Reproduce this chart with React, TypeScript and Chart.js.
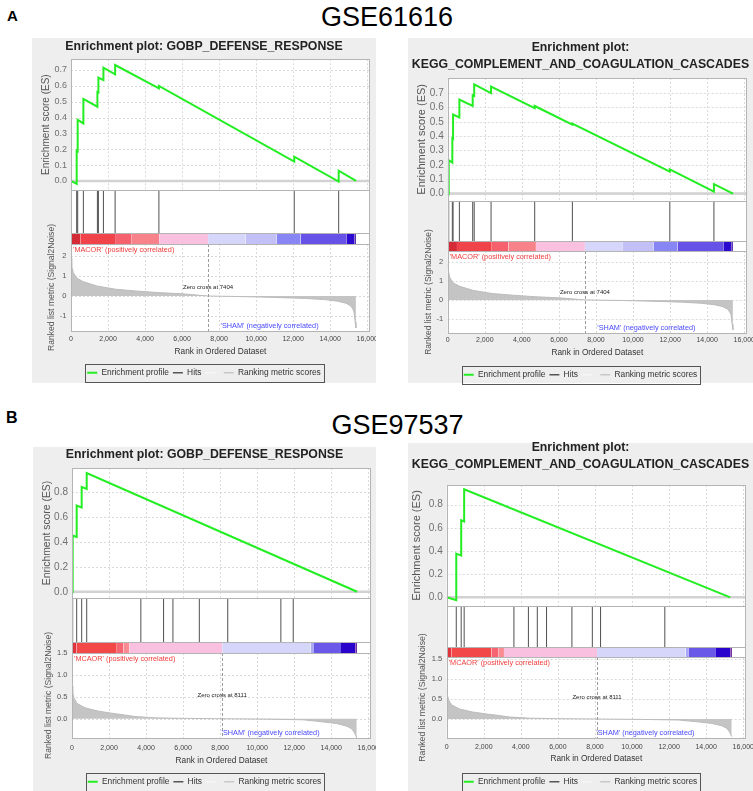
import React, { useEffect, useRef } from 'react';
import { Chart, registerables } from 'chart.js';

Chart.register(...registerables);

// ------------------------------------------------------------------
// DATA
// ------------------------------------------------------------------
const X_MAX = 16150;
const X_TICKS = [0, 2000, 4000, 6000, 8000, 10000, 12000, 14000, 16000];

// tick values
const ES_TICKS_A = [0, 0.1, 0.2, 0.3, 0.4, 0.5, 0.6, 0.7];
const ES_TICKS_B = [0, 0.2, 0.4, 0.6, 0.8];
const METRIC_TICKS_A = [-1, 0, 1, 2];
const METRIC_TICKS_B = [0, 0.5, 1, 1.5];

// GSE61616 ranked list metric (Signal2Noise)
const METRIC_A_RANKS = [0, 40, 120, 300, 650, 1400, 2400, 3500, 4700, 6000, 7404, 9300, 11000, 12600, 13700, 14400, 14850, 15120, 15280, 15350, 15390];
const METRIC_A_VALUES = [1.9, 1.5, 1.18, 0.9, 0.72, 0.5, 0.34, 0.25, 0.17, 0.11, 0, -0.03, -0.07, -0.12, -0.18, -0.26, -0.36, -0.5, -0.75, -1.3, -1.6];
const ZERO_CROSS_A = 7404;
const HEAT_A_EDGES = [0, 500, 2380, 3280, 4760, 7404, 9420, 11100, 12400, 14870, 15300, 15390];

// GSE97537 ranked list metric (Signal2Noise)
const METRIC_B_RANKS = [0, 40, 100, 270, 700, 1400, 2150, 2850, 3400, 4500, 6000, 8111, 10500, 12500, 13400, 14300, 14850, 15100, 15230, 15300, 15380];
const METRIC_B_VALUES = [0.75, 0.6, 0.48, 0.35, 0.25, 0.175, 0.125, 0.085, 0.05, 0.02, 0.008, 0, -0.01, -0.025, -0.065, -0.11, -0.17, -0.23, -0.3, -0.36, -0.44];
const ZERO_CROSS_B = 8111;
const HEAT_B_EDGES = [0, 250, 2420, 2780, 3090, 8111, 12890, 13070, 14530, 15300, 15390];

// GSE61616 - GOBP_DEFENSE_RESPONSE
const HITS_A1 = [307, 361, 668, 1426, 1480, 1751, 2383, 4747, 12058, 14458];
const ES_A1_RANKS = [0, 307, 307, 361, 361, 668, 668, 1426, 1426, 1480, 1480, 1751, 1751, 2383, 2383, 4747, 4747, 12058, 12058, 14458, 14458, 15400];
const ES_A1_VALUES = [0, -0.018, 0.19, 0.187, 0.385, 0.363, 0.517, 0.468, 0.561, 0.558, 0.651, 0.636, 0.714, 0.672, 0.731, 0.584, 0.599, 0.122, 0.153, -0.004, 0.065, 0];

// GSE61616 - KEGG_COMPLEMENT_AND_COAGULATION_CASCADES
const HITS_A2 = [54, 250, 290, 630, 1349, 1430, 2340, 4694, 6727, 11985, 14365];
const ES_A2_RANKS = [0, 54, 54, 250, 250, 290, 290, 630, 630, 1349, 1349, 1430, 1430, 2340, 2340, 4694, 4694, 6727, 6727, 11985, 11985, 14365, 14365, 15400];
const ES_A2_VALUES = [0, -0.003, 0.232, 0.215, 0.385, 0.382, 0.55, 0.53, 0.655, 0.61, 0.685, 0.68, 0.76, 0.7, 0.745, 0.595, 0.61, 0.48, 0.487, 0.152, 0.168, 0.013, 0.065, 0];

// GSE97537 - GOBP_DEFENSE_RESPONSE
const HITS_B1 = [36, 253, 523, 794, 3718, 4946, 5451, 6877, 8412, 11282, 11949];
const ES_B1_RANKS = [0, 36, 36, 253, 253, 523, 523, 794, 794, 15400];
const ES_B1_VALUES = [0, -0.002, 0.452, 0.44, 0.693, 0.677, 0.843, 0.826, 0.955, 0];

// GSE97537 - KEGG_COMPLEMENT_AND_COAGULATION_CASCADES
const HITS_B2 = [516, 782, 942, 3627, 4409, 4889, 5387, 6756, 7858, 8302, 11769];
const ES_B2_RANKS = [0, 516, 516, 782, 782, 942, 942, 15300];
const ES_B2_VALUES = [0, -0.025, 0.377, 0.36, 0.665, 0.655, 0.933, 0];

// ------------------------------------------------------------------
// STYLES
// ------------------------------------------------------------------
const FONT = "'Liberation Sans', Arial, Helvetica, sans-serif";
const GREEN = '#22ee22';
const HEAT_A_COLORS = ['#d42c36', '#f0444a', '#f5626e', '#f7828a', '#fac0e0', '#d6d6fa', '#c2c0f6', '#8786f4', '#6652e6', '#2c0ad0', '#4212a8'];
const HEAT_B_COLORS = ['#e2323c', '#f24848', '#f56672', '#f88c92', '#fac0e0', '#d6d6fa', '#a8a8f6', '#6a58e8', '#2a04cc', '#5a0a90'];

type Panel = {
  key: string;
  gray: { l: number; t: number; r: number; b: number };
  canvasTop: number;
  plotLeft: number; plotRight: number;
  title: string[]; titleY: number; titleGap: number;
  plotTop: number; esBottom: number; hitsBottom: number; heatBottom: number; metricBottom: number;
  xLabelY: number; xTitleY: number; legendY: number;
  esTitleX: number; metricTitleX: number;
  esMin: number; esMax: number; esTicks: number[];
  metricMin: number; metricMax: number; metricTicks: number[]; metricDigits: number;
  esTickFont: number; esTitleFont: number; metricTickFont: number; metricTitleFont: number;
  esRanks: number[]; esValues: number[]; hits: number[];
  metricRanks: number[]; metricValues: number[];
  heatEdges: number[]; heatColors: string[];
  zeroCross: number; posLabel: string; negLabel: string;
};

const PANELS: Panel[] = [
  {
    key: 'a1', gray: { l: 32, t: 38, r: 376, b: 383 }, canvasTop: 38,
    plotLeft: 71, plotRight: 370,
    title: ['Enrichment plot: GOBP_DEFENSE_RESPONSE'], titleY: 47, titleGap: 17,
    plotTop: 59.3, esBottom: 190, hitsBottom: 233, heatBottom: 244, metricBottom: 331,
    xLabelY: 339, xTitleY: 352, legendY: 372,
    esTitleX: 46.7, metricTitleX: 51.7,
    esMin: -0.057, esMax: 0.767, esTicks: ES_TICKS_A,
    metricMin: -1.75, metricMax: 2.6, metricTicks: METRIC_TICKS_A, metricDigits: 0,
    esTickFont: 9, esTitleFont: 10, metricTickFont: 7.5, metricTitleFont: 8.6,
    esRanks: ES_A1_RANKS, esValues: ES_A1_VALUES, hits: HITS_A1,
    metricRanks: METRIC_A_RANKS, metricValues: METRIC_A_VALUES,
    heatEdges: HEAT_A_EDGES, heatColors: HEAT_A_COLORS,
    zeroCross: ZERO_CROSS_A, posLabel: "'MACOR' (positively correlated)", negLabel: "'SHAM' (negatively correlated)",
  },
  {
    key: 'a2', gray: { l: 408, t: 38, r: 753, b: 383 }, canvasTop: 38,
    plotLeft: 447.7, plotRight: 747,
    title: ['Enrichment plot:', 'KEGG_COMPLEMENT_AND_COAGULATION_CASCADES'], titleY: 48, titleGap: 17,
    plotTop: 78, esBottom: 200.7, hitsBottom: 241, heatBottom: 251, metricBottom: 333,
    xLabelY: 340, xTitleY: 352.7, legendY: 374,
    esTitleX: 421.7, metricTitleX: 428.3,
    esMin: -0.05, esMax: 0.805, esTicks: ES_TICKS_A,
    metricMin: -1.76, metricMax: 2.6, metricTicks: METRIC_TICKS_A, metricDigits: 0,
    esTickFont: 10, esTitleFont: 11, metricTickFont: 7.5, metricTitleFont: 8.5,
    esRanks: ES_A2_RANKS, esValues: ES_A2_VALUES, hits: HITS_A2,
    metricRanks: METRIC_A_RANKS, metricValues: METRIC_A_VALUES,
    heatEdges: HEAT_A_EDGES, heatColors: HEAT_A_COLORS,
    zeroCross: ZERO_CROSS_A, posLabel: "'MACOR' (positively correlated)", negLabel: "'SHAM' (negatively correlated)",
  },
  {
    key: 'b1', gray: { l: 33, t: 447, r: 376, b: 791 }, canvasTop: 447,
    plotLeft: 72, plotRight: 371,
    title: ['Enrichment plot: GOBP_DEFENSE_RESPONSE'], titleY: 455, titleGap: 17,
    plotTop: 468, esBottom: 598, hitsBottom: 642, heatBottom: 653, metricBottom: 738,
    xLabelY: 748, xTitleY: 761, legendY: 781.5,
    esTitleX: 46.7, metricTitleX: 49,
    esMin: -0.05, esMax: 0.995, esTicks: ES_TICKS_B,
    metricMin: -0.44, metricMax: 1.5, metricTicks: METRIC_TICKS_B, metricDigits: 1,
    esTickFont: 10, esTitleFont: 10.4, metricTickFont: 7.5, metricTitleFont: 8.6,
    esRanks: ES_B1_RANKS, esValues: ES_B1_VALUES, hits: HITS_B1,
    metricRanks: METRIC_B_RANKS, metricValues: METRIC_B_VALUES,
    heatEdges: HEAT_B_EDGES, heatColors: HEAT_B_COLORS,
    zeroCross: ZERO_CROSS_B, posLabel: "'MCAOR' (positively correlated)", negLabel: "'SHAM' (negatively correlated)",
  },
  {
    key: 'b2', gray: { l: 408, t: 443, r: 753, b: 791 }, canvasTop: 436,
    plotLeft: 446.7, plotRight: 746,
    title: ['Enrichment plot:', 'KEGG_COMPLEMENT_AND_COAGULATION_CASCADES'], titleY: 448, titleGap: 16.5,
    plotTop: 485, esBottom: 606, hitsBottom: 647, heatBottom: 657, metricBottom: 738,
    xLabelY: 746.7, xTitleY: 759, legendY: 781,
    esTitleX: 416.7, metricTitleX: 422.7,
    esMin: -0.075, esMax: 0.97, esTicks: ES_TICKS_B,
    metricMin: -0.475, metricMax: 1.55, metricTicks: METRIC_TICKS_B, metricDigits: 1,
    esTickFont: 10, esTitleFont: 11, metricTickFont: 7.5, metricTitleFont: 8.7,
    esRanks: ES_B2_RANKS, esValues: ES_B2_VALUES, hits: HITS_B2,
    metricRanks: METRIC_B_RANKS, metricValues: METRIC_B_VALUES,
    heatEdges: HEAT_B_EDGES, heatColors: HEAT_B_COLORS,
    zeroCross: ZERO_CROSS_B, posLabel: "'MCAOR' (positively correlated)", negLabel: "'SHAM' (negatively correlated)",
  },
];

const LEGEND_FONT = 8.4;
const LEGEND_PAD = 4;

// ------------------------------------------------------------------
// Decoration plugin (frames, grid, annotations, legend frame)
// ------------------------------------------------------------------
const decor = {
  id: 'gseaDecor',
  beforeDraw(chart: any) {
    const { ctx, chartArea: ca } = chart;
    ctx.save();
    ctx.fillStyle = '#ffffff';
    ctx.fillRect(ca.left, ca.top, ca.right - ca.left, ca.bottom - ca.top);
    ctx.restore();
  },
  beforeDatasetsDraw(chart: any) {
    const { ctx, chartArea: ca, scales: s } = chart;
    ctx.save();
    ctx.strokeStyle = '#dadada';
    ctx.lineWidth = 1;
    ctx.setLineDash([2, 2]);
    for (const area of [s.yES, s.yMetric]) {
      for (const t of s.x.ticks) {
        if (t.value === 0) continue;
        const px = Math.round(s.x.getPixelForValue(t.value)) + 0.5;
        ctx.beginPath(); ctx.moveTo(px, area.top); ctx.lineTo(px, area.bottom); ctx.stroke();
      }
      for (const t of area.ticks) {
        const py = Math.round(area.getPixelForValue(t.value)) + 0.5;
        ctx.beginPath(); ctx.moveTo(ca.left, py); ctx.lineTo(ca.right, py); ctx.stroke();
      }
    }
    ctx.restore();
  },
  afterDatasetsDraw(chart: any, _args: any, opts: any) {
    const { ctx, chartArea: ca, scales: s } = chart;
    const es = s.yES, hits = s.yHits, heat = s.yHeat, m = s.yMetric;
    const L = Math.round(ca.left) + 0.5, R = Math.round(ca.right) - 0.5;
    const hl = (y: number) => Math.round(y) + 0.5;
    ctx.save();
    // zero-cross dashed line
    const zx = Math.round(s.x.getPixelForValue(opts.zeroCross)) + 0.5;
    ctx.strokeStyle = '#9a9a9a';
    ctx.lineWidth = 1;
    ctx.setLineDash([3, 2]);
    ctx.beginPath(); ctx.moveTo(zx, heat.bottom); ctx.lineTo(zx, m.bottom); ctx.stroke();
    ctx.setLineDash([]);
    // frames
    ctx.strokeStyle = '#b4b4b4';
    ctx.strokeRect(L, hl(es.top), R - L, hl(es.bottom) - hl(es.top));
    ctx.strokeRect(L, hl(hits.top), R - L, hl(m.bottom) - hl(hits.top));
    ctx.beginPath();
    ctx.moveTo(L, hl(heat.top)); ctx.lineTo(R, hl(heat.top));
    ctx.moveTo(L, hl(heat.bottom)); ctx.lineTo(R, hl(heat.bottom));
    ctx.stroke();
    // annotations
    ctx.textBaseline = 'middle';
    ctx.font = `7.3px ${FONT}`;
    ctx.fillStyle = '#f03c3c';
    ctx.textAlign = 'left';
    ctx.fillText(opts.posLabel, ca.left + 2, heat.bottom + 5.5);
    ctx.fillStyle = '#4a4aff';
    ctx.fillText(opts.negLabel, (ca.left + ca.right) / 2, m.bottom - 5);
    ctx.font = `6px ${FONT}`;
    ctx.fillStyle = '#222';
    ctx.textAlign = 'center';
    ctx.fillText(`Zero cross at ${opts.zeroCross}`, s.x.getPixelForValue(opts.zeroCross), (m.top + m.bottom) / 2);
    ctx.restore();
  },
  afterDraw(chart: any) {
    const lg = chart.legend;
    if (!lg || !lg.legendHitBoxes || !lg.legendHitBoxes.length) return;
    const hb = lg.legendHitBoxes;
    let minL = Infinity, maxR = -Infinity;
    for (const b of hb) { minL = Math.min(minL, b.left); maxR = Math.max(maxR, b.left + b.width); }
    const cy = hb[0].top + hb[0].height / 2;
    const { ctx } = chart;
    ctx.save();
    ctx.strokeStyle = '#555';
    ctx.lineWidth = 1;
    const x0 = Math.round(minL - 2) + 0.5, x1 = Math.round(maxR + 3) + 0.5;
    const y0 = Math.round(cy - 9) + 0.5, y1 = Math.round(cy + 9) + 0.5;
    ctx.strokeRect(x0, y0, x1 - x0, y1 - y0);
    ctx.restore();
  },
};

function buildConfig(p: Panel, W: number, H: number): any {
  const ct = p.canvasTop;
  const chartTop = p.plotTop - ct;
  const chartBottom = p.metricBottom - ct;
  const legendH = LEGEND_FONT + LEGEND_PAD + 10;
  const xH = H - legendH - chartBottom;
  const xTickFont = 7;
  const xTickPad = (p.xLabelY - ct) - chartBottom - (xTickFont * 1.2) / 2;
  const xTitleFont = 8.3;
  const xTitlePadB = Math.max(0, (chartBottom + xH) - (p.xTitleY - ct) - (xTitleFont * 1.2) / 2);
  const tFont = 12.3;
  const tLH = p.title.length > 1 ? p.titleGap : tFont * 1.2;
  const tPadTop = (p.titleY - ct) - tLH / 2;
  const tPadBottom = chartTop - tPadTop - p.title.length * tLH;
  const yW = p.plotLeft - p.gray.l;
  const padR = p.gray.r - p.plotRight;
  const esTitlePad = (p.esTitleX - p.gray.l) - (p.esTitleFont * 1.2) / 2;
  const mTitlePad = (p.metricTitleX - p.gray.l) - (p.metricTitleFont * 1.2) / 2;
  const hES = p.esBottom - p.plotTop;
  const hHits = p.hitsBottom - p.esBottom;
  const hHeat = p.heatBottom - p.hitsBottom;
  const hMetric = p.metricBottom - p.heatBottom;

  const fixY = (sc: any) => {
    sc.width = yW;
    sc.paddingTop = 0; sc.paddingBottom = 0; sc.paddingLeft = 0; sc.paddingRight = 0;
  };
  const setTicks = (vals: number[]) => (sc: any) => {
    sc.ticks = vals.map((v) => ({ value: v }));
  };

  const heatSets = p.heatColors.map((c, i) => ({
    type: 'line',
    label: 'heat' + i,
    data: [{ x: p.heatEdges[i], y: 1 }, { x: p.heatEdges[i + 1], y: 1 }],
    xAxisID: 'x', yAxisID: 'yHeat',
    fill: 'origin', backgroundColor: c, borderColor: c, borderWidth: 0,
    pointRadius: 0, order: 5,
  }));

  const datasets: any[] = [
    {
      type: 'line', label: 'Enrichment profile',
      data: p.esRanks.map((r, i) => ({ x: r, y: p.esValues[i] })),
      xAxisID: 'x', yAxisID: 'yES',
      borderColor: GREEN, borderWidth: 2, pointRadius: 0, tension: 0, fill: false, order: 0,
    },
    {
      type: 'line', label: 'zero',
      data: [{ x: 0, y: 0 }, { x: X_MAX, y: 0 }],
      xAxisID: 'x', yAxisID: 'yES',
      borderColor: '#d2d2d2', borderWidth: 2.5, pointRadius: 0, fill: false, order: 1,
    },
    {
      type: 'line', label: 'Ranking metric scores',
      data: p.metricRanks.map((r, i) => ({ x: r, y: p.metricValues[i] })),
      xAxisID: 'x', yAxisID: 'yMetric',
      borderColor: '#bcbcbc', borderWidth: 1, backgroundColor: '#c4c4c4', fill: 'origin',
      pointRadius: 0, tension: 0, order: 2,
    },
    {
      type: 'bar', label: 'Hits',
      data: p.hits.map((r) => ({ x: r, y: 1 })),
      xAxisID: 'x', yAxisID: 'yHits',
      backgroundColor: '#505050', borderWidth: 0, barThickness: 1, inflateAmount: 0, order: 3,
    },
    ...heatSets,
  ];

  const noGrid = { display: false, drawTicks: false, tickLength: 0 };

  return {
    type: 'line',
    data: { datasets },
    plugins: [decor],
    options: {
      responsive: false,
      animation: false,
      devicePixelRatio: 1,
      events: [],
      layout: { padding: 0 },
      scales: {
        x: {
          type: 'linear', position: 'bottom', min: 0, max: X_MAX, offset: false,
          grid: noGrid, border: { display: false },
          afterBuildTicks: setTicks(X_TICKS),
          ticks: {
            autoSkip: false, maxRotation: 0, minRotation: 0,
            padding: xTickPad, color: '#444', font: { family: FONT, size: xTickFont },
            callback: (v: any) => Number(v).toLocaleString('en-US'),
          },
          title: {
            display: true, text: 'Rank in Ordered Dataset', color: '#333',
            font: { family: FONT, size: xTitleFont }, padding: { top: 0, bottom: xTitlePadB },
          },
          afterFit: (sc: any) => {
            sc.height = xH;
            sc.paddingLeft = 0; sc.paddingRight = padR; sc.paddingTop = 0; sc.paddingBottom = 0;
          },
        },
        yES: {
          type: 'linear', position: 'left', stack: 'gsea', stackWeight: hES, weight: 4,
          min: p.esMin, max: p.esMax, offset: false,
          grid: noGrid, border: { display: false },
          afterBuildTicks: setTicks(p.esTicks),
          ticks: {
            autoSkip: false, padding: 4, color: '#707070',
            font: { family: FONT, size: p.esTickFont },
            callback: (v: any) => Number(v).toFixed(1),
          },
          title: {
            display: true, text: 'Enrichment score (ES)', color: '#555',
            font: { family: FONT, size: p.esTitleFont }, padding: { top: esTitlePad, bottom: 0 },
          },
          afterFit: fixY,
        },
        yHits: {
          type: 'linear', position: 'left', stack: 'gsea', stackWeight: hHits, weight: 3,
          min: 0, max: 1, offset: false,
          grid: noGrid, border: { display: false },
          ticks: { display: false },
          afterFit: fixY,
        },
        yHeat: {
          type: 'linear', position: 'left', stack: 'gsea', stackWeight: hHeat, weight: 2,
          min: 0, max: 1, offset: false,
          grid: noGrid, border: { display: false },
          ticks: { display: false },
          afterFit: fixY,
        },
        yMetric: {
          type: 'linear', position: 'left', stack: 'gsea', stackWeight: hMetric, weight: 1,
          min: p.metricMin, max: p.metricMax, offset: false,
          grid: noGrid, border: { display: false },
          afterBuildTicks: setTicks(p.metricTicks),
          ticks: {
            autoSkip: false, padding: 4.5, color: '#555',
            font: { family: FONT, size: p.metricTickFont },
            callback: (v: any) => Number(v).toFixed(p.metricDigits),
          },
          title: {
            display: true, text: 'Ranked list metric (Signal2Noise)', color: '#555',
            font: { family: FONT, size: p.metricTitleFont }, padding: { top: mTitlePad, bottom: 0 },
          },
          afterFit: fixY,
        },
      },
      plugins: {
        title: {
          display: true, text: p.title, color: '#222',
          font: { family: FONT, size: tFont, weight: 'bold', lineHeight: tLH / tFont },
          padding: { top: tPadTop, bottom: tPadBottom },
        },
        legend: {
          display: true, position: 'bottom', onClick: () => {},
          labels: {
            usePointStyle: true, pointStyleWidth: 10, padding: LEGEND_PAD, color: '#333',
            font: { family: FONT, size: LEGEND_FONT },
            generateLabels: () => [
              { text: 'Enrichment profile', strokeStyle: GREEN, fillStyle: GREEN, lineWidth: 2, pointStyle: 'line', hidden: false, fontColor: '#333' },
              { text: 'Hits', strokeStyle: '#555', fillStyle: '#555', lineWidth: 1.5, pointStyle: 'line', hidden: false, fontColor: '#333' },
              { text: '', strokeStyle: '#f6f6f6', fillStyle: '#f6f6f6', lineWidth: 1.5, pointStyle: 'line', hidden: false, fontColor: '#333' },
              { text: 'Ranking metric scores', strokeStyle: '#c8c8c8', fillStyle: '#c8c8c8', lineWidth: 1.5, pointStyle: 'line', hidden: false, fontColor: '#333' },
            ],
          },
        },
        tooltip: { enabled: false },
        gseaDecor: {
          zeroCross: p.zeroCross, posLabel: p.posLabel, negLabel: p.negLabel,
        },
      },
    },
  };
}

function GseaPanel({ p }: { p: Panel }) {
  const ref = useRef<HTMLCanvasElement>(null);
  const W = p.gray.r - p.gray.l;
  const H = Math.ceil(p.legendY - p.canvasTop + 14.2);
  useEffect(() => {
    const chart = new Chart(ref.current as HTMLCanvasElement, buildConfig(p, W, H));
    return () => chart.destroy();
  }, []);
  return (
    <canvas
      ref={ref}
      width={W}
      height={H}
      style={{ position: 'absolute', left: p.gray.l, top: p.canvasTop, width: W, height: H, display: 'block' }}
    />
  );
}

export default function App() {
  return (
    <div style={{ position: 'fixed', left: 0, top: 0, width: 753, height: 791, overflow: 'hidden', background: '#fff', fontFamily: FONT }}>
      <div style={{ position: 'absolute', left: 7, top: 8, fontSize: 15, fontWeight: 'bold', lineHeight: 1, color: '#000' }}>A</div>
      <div style={{ position: 'absolute', left: 287, top: 3.5, width: 200, textAlign: 'center', fontSize: 27, lineHeight: 1, color: '#000' }}>GSE61616</div>
      <div style={{ position: 'absolute', left: 6, top: 409.6, fontSize: 16, fontWeight: 'bold', lineHeight: 1, color: '#000' }}>B</div>
      <div style={{ position: 'absolute', left: 297.5, top: 411.5, width: 200, textAlign: 'center', fontSize: 27, lineHeight: 1, color: '#000' }}>GSE97537</div>
      {PANELS.map((p) => (
        <div
          key={'bg' + p.key}
          style={{ position: 'absolute', left: p.gray.l, top: p.gray.t, width: p.gray.r - p.gray.l, height: p.gray.b - p.gray.t, background: '#eeeeee' }}
        />
      ))}
      {PANELS.map((p) => (
        <GseaPanel key={p.key} p={p} />
      ))}
    </div>
  );
}
